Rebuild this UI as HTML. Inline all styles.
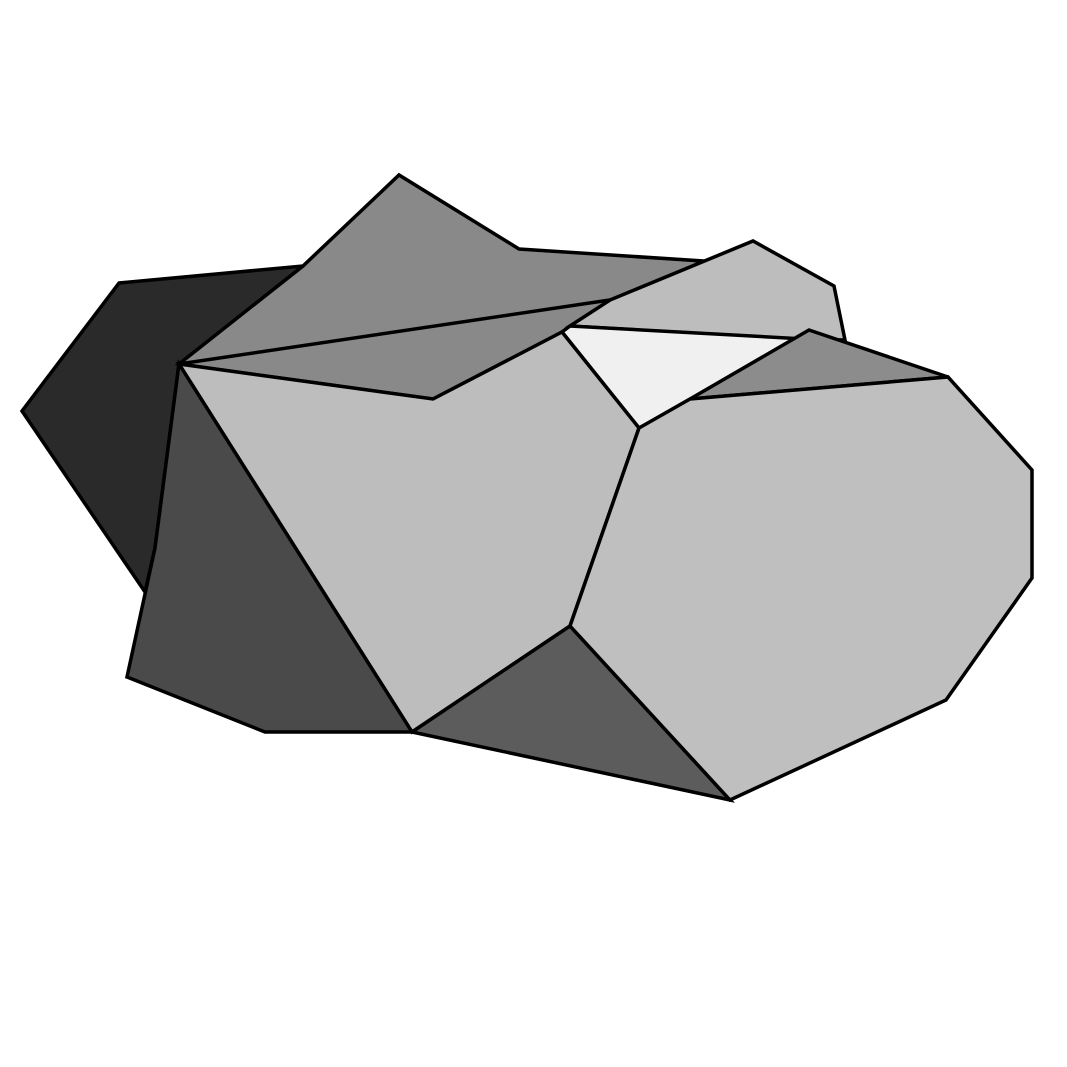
<!DOCTYPE html>
<html><head><meta charset="utf-8"><style>
html,body{margin:0;padding:0;background:#fff;width:1067px;height:1067px;overflow:hidden}
svg{display:block}
</style></head><body>
<svg id="chart" width="1067" height="1067" viewBox="0 0 1067 1067" xmlns="http://www.w3.org/2000/svg">
<rect width="1067" height="1067" fill="#fff"/>
</svg>
<script>
const faceNames = ["back-left-face","top-face","back-right-face","inner-light-face","right-top-face","center-face","left-front-face","bottom-face","right-front-face"];
const faceFills = ["#2a2a2a","#898989","#bdbdbd","#f0f0f0","#8c8c8c","#bdbdbd","#4a4a4a","#5c5c5c","#bfbfbf"];
const faceVerts = [
 [[119,283],[303,266],[179,364],[155,548],[145,592],[22,411]],
 [[179,364],[303,266],[399,175],[519,249],[703,261],[630,297],[433,399]],
 [[610,300],[753,241],[834,286],[845,340],[790,339],[570,326]],
 [[570,326],[805,339],[639,428],[562,332]],
 [[690,399],[809,330],[948,377]],
 [[179,364],[433,399],[562,332],[639,428],[570,626],[412,732]],
 [[179,364],[412,732],[265,732],[127,677],[155,548]],
 [[412,732],[570,626],[730,800]],
 [[639,428],[690,399],[948,377],[1032,470],[1032,578],[946,700],[730,800],[570,626]]
];
const edgeSegments = [[[179,364],[630,297]]];
const svg = document.getElementById('chart');
const NS = "http://www.w3.org/2000/svg";
faceVerts.forEach((pts,i)=>{
  const p = document.createElementNS(NS,'polygon');
  p.setAttribute('points', pts.map(v=>v.join(',')).join(' '));
  p.setAttribute('fill', faceFills[i]);
  p.setAttribute('stroke', '#000');
  p.setAttribute('stroke-width', '3.5');
  
  
  svg.appendChild(p);
  if (i === 1) {
    edgeSegments.forEach(seg=>{
      const l = document.createElementNS(NS,'line');
      l.setAttribute('x1', seg[0][0]); l.setAttribute('y1', seg[0][1]);
      l.setAttribute('x2', seg[1][0]); l.setAttribute('y2', seg[1][1]);
      l.setAttribute('stroke', '#000');
      l.setAttribute('stroke-width', '3.5');
      
      
      svg.appendChild(l);
    });
  }
});
</script>
</body></html>
